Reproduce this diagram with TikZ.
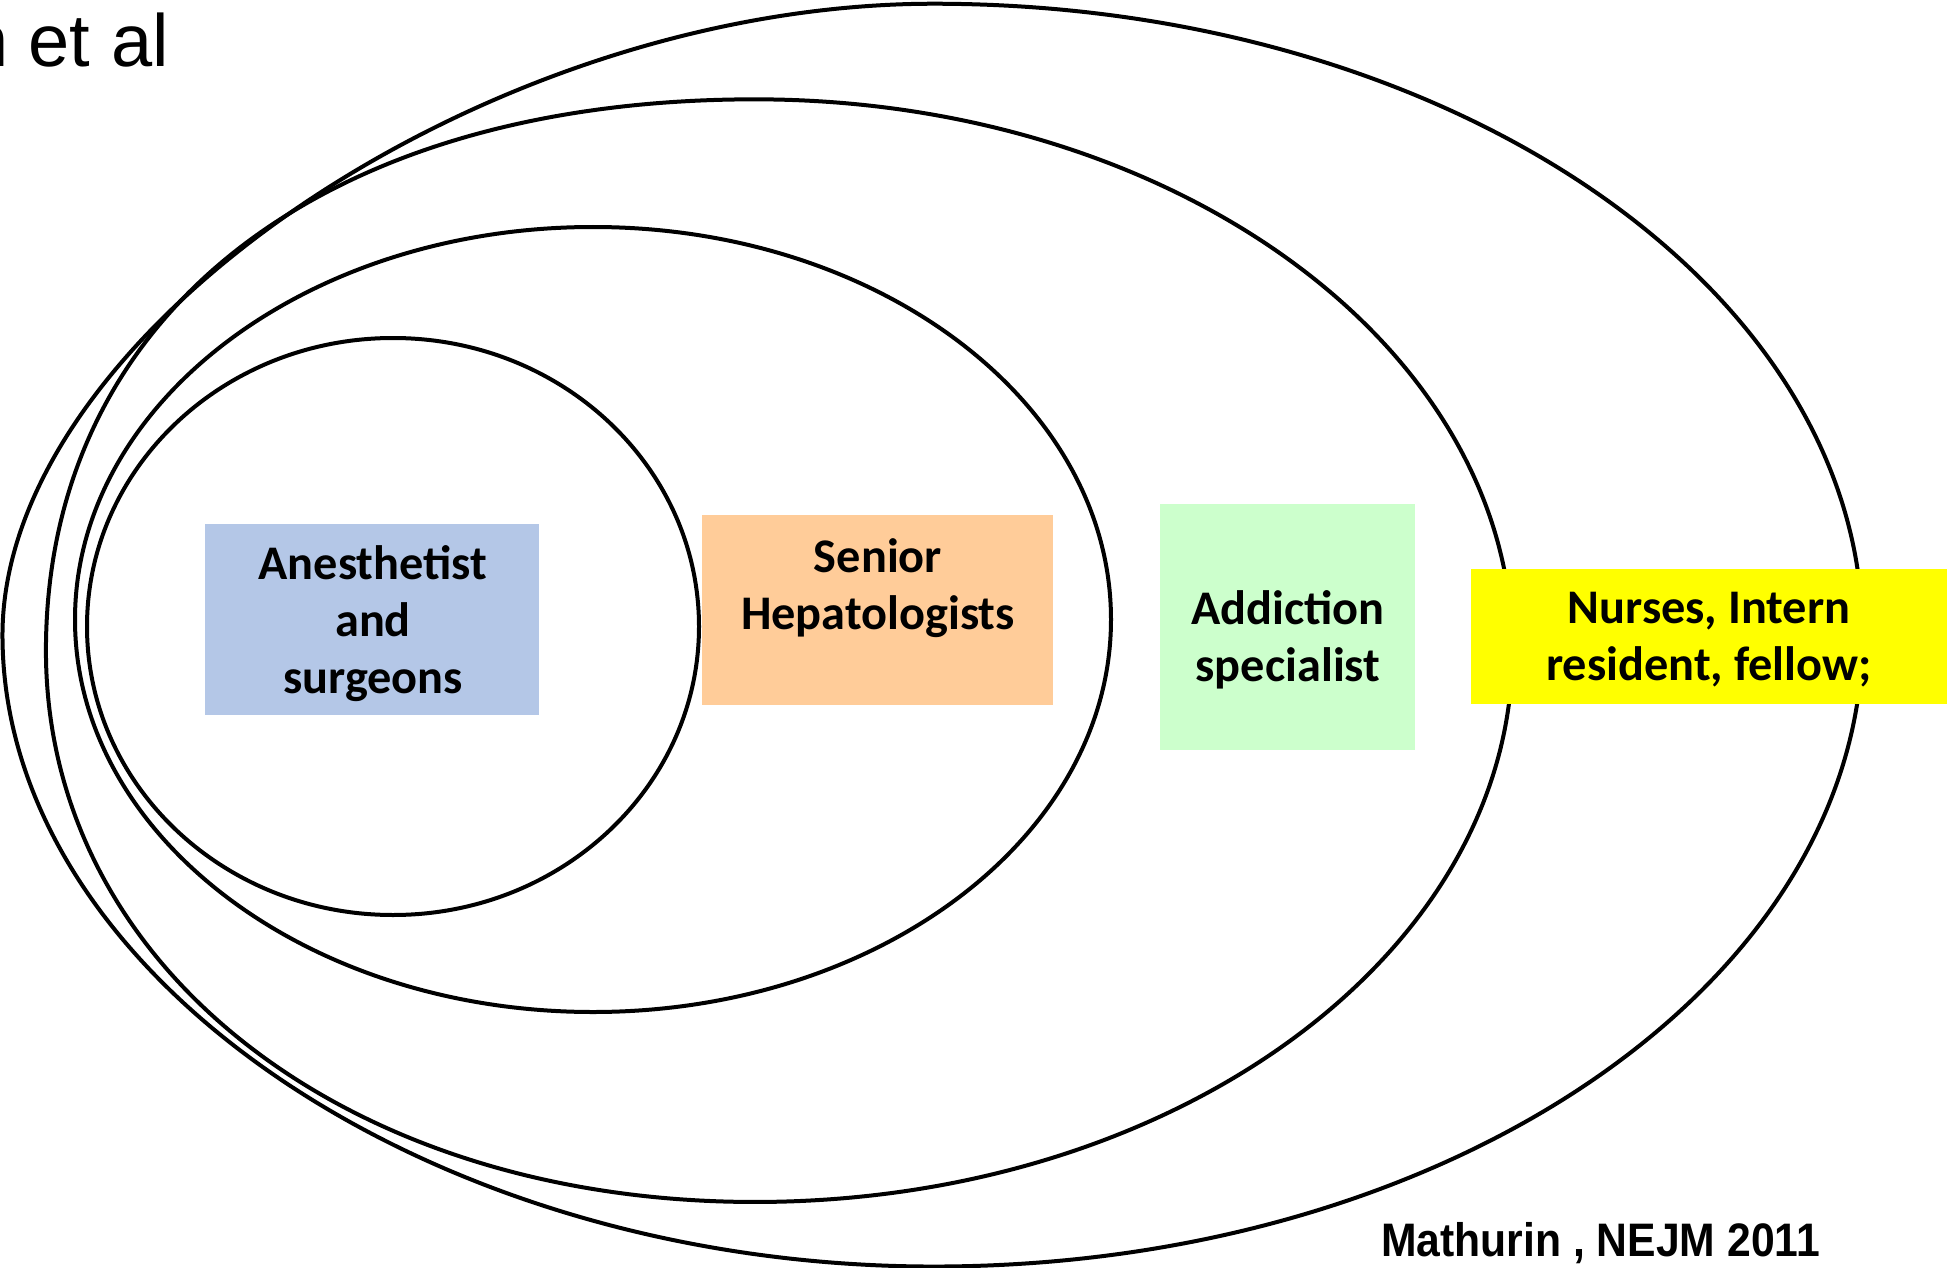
\documentclass[tikz,border=0pt]{standalone}
\usepackage{fontspec}
\setmainfont{Carlito}
\newfontfamily\arialfont{Liberation Sans}
\definecolor{boxblue}{HTML}{B4C7E7}
\definecolor{boxorange}{HTML}{FFCC99}
\definecolor{boxgreen}{HTML}{CCFFCC}
\definecolor{boxyellow}{HTML}{FFFF00}
\begin{document}
\begin{tikzpicture}[x=1pt,y=-1pt,
  ring/.style={draw=black, line width=4pt},
  panel/.style={rectangle, inner sep=0pt, outer sep=0pt, anchor=north west, draw=none},
  lbl/.style={font=\bfseries\fontsize{48.3}{57}\selectfont, align=center, inner sep=0pt}]
\useasboundingbox (0,0) rectangle (1947,1268);
\clip (0,0) rectangle (1947,1268);
\fill[white] (0,0) rectangle (1947,1268);
% outer and second rings (drawn in reduced-view units)
\begin{scope}[x=1.2417pt,y=-1.2417pt]
\draw[ring] (752,3) .. controls (392,3) and (2,267.4) .. (2,511.5)
  .. controls (2,786.1) and (347,1020) .. (752,1020)
  .. controls (1165.1,1020) and (1500,792.3) .. (1500,511.5)
  .. controls (1500,230.7) and (1165.1,3) .. (752,3) -- cycle;
\draw[ring] (608,80) .. controls (259.7,80) and (37,253.2) .. (37,524)
  .. controls (37,779.3) and (279.7,968) .. (608,968)
  .. controls (944.9,968) and (1218,769.2) .. (1218,524)
  .. controls (1218,278.8) and (944.9,80) .. (608,80) -- cycle;
\end{scope}
% inner rings
\draw[ring] (593,619.5) ellipse [x radius=518pt, y radius=392.5pt];
\draw[ring] (393,626.5) ellipse [x radius=306pt, y radius=288.5pt];
% boxes
\node[panel, fill=boxblue, minimum width=334pt, minimum height=191pt] (anes) at (205,524) {};
\node[panel, fill=boxorange, minimum width=351pt, minimum height=190pt] (senior) at (702,515) {};
\node[panel, fill=boxgreen, minimum width=255pt, minimum height=246pt] (addic) at (1160,504) {};
\node[panel, fill=boxyellow, minimum width=476pt, minimum height=135pt] (nurse) at (1471,569) {};
% labels
\node[lbl] (anest) at (373,624) {Anesthetist\\and\\surgeons};
\node[lbl] (seniort) at (878,588) {Senior\\Hepatologists};
\node[lbl] (addict) at (1288,640) {Addiction\\specialist};
\node[lbl] (nurset) at (1709,640) {Nurses, Intern\\resident, fellow;};
% captions
\node[anchor=base west, inner sep=0pt, font=\arialfont\fontsize{74}{80}\selectfont] (etal) at (-33,67) {n et al};
\node[anchor=base west, inner sep=0pt, font=\arialfont\bfseries\fontsize{47}{50}\selectfont] (cite) at (1381,1256) {\scalebox{0.908}[1]{Mathurin , NEJM 2011}};
\end{tikzpicture}
\end{document}
